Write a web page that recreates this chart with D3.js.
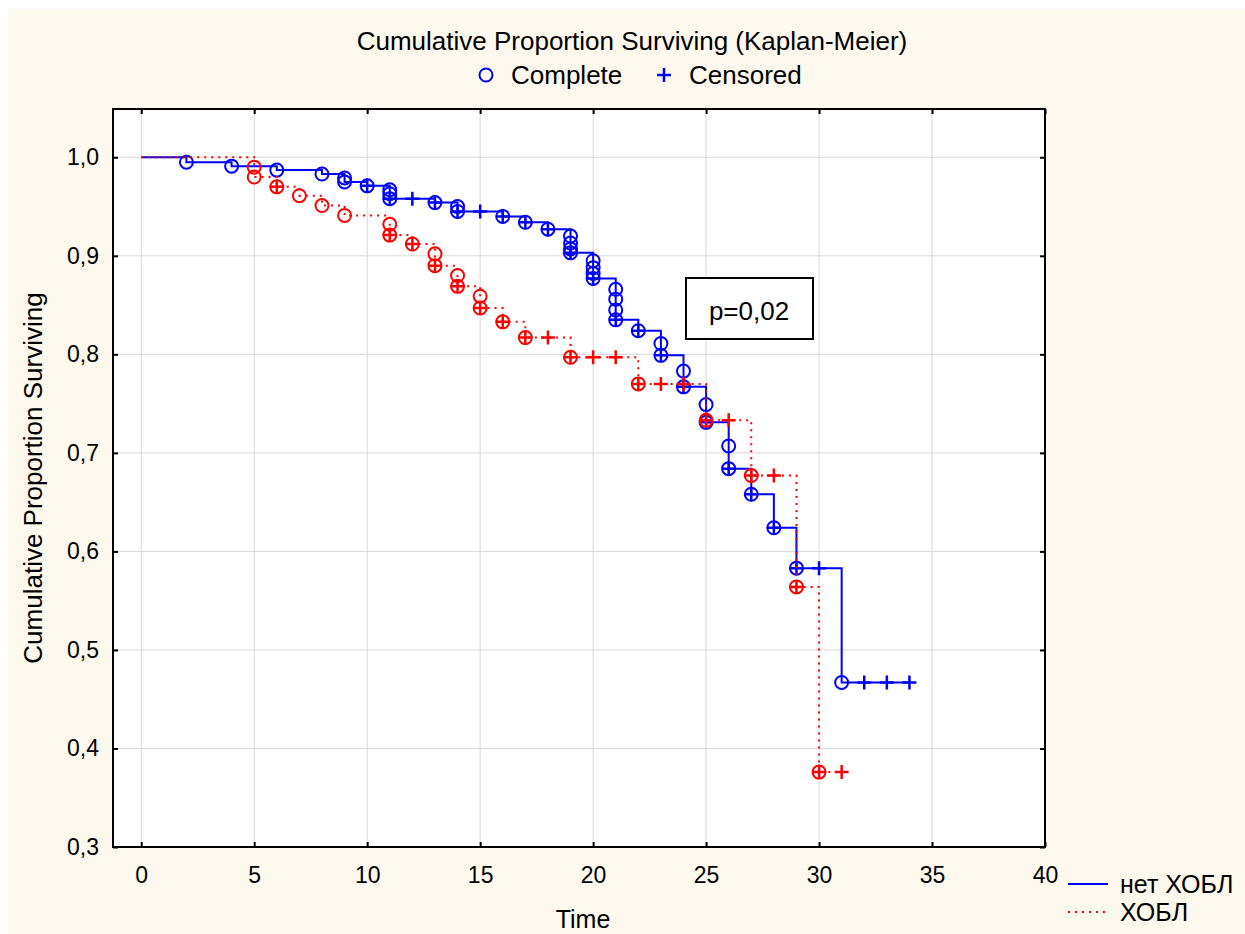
<!DOCTYPE html>
<html>
<head>
<meta charset="utf-8">
<script src="https://cdn.jsdelivr.net/npm/d3@7"></script>
<style>
  body { margin: 0; background: #fff; }
  text { font-family: "Liberation Sans", Arial, sans-serif; }
</style>
</head>
<body>
<svg id="chart" width="1245" height="934"></svg>
<script>
// ---- data ----
var xTicks = [0, 5, 10, 15, 20, 25, 30, 35, 40];
var yTicks = [0.3, 0.4, 0.5, 0.6, 0.7, 0.8, 0.9, 1.0];

// group "нет ХОБЛ" (blue, solid)
var noEventTime = [2, 4, 6, 8, 9, 9, 10, 11, 11, 11, 13, 14, 14, 16, 17, 18,
    19, 19, 19, 19, 20, 20, 20, 20, 21, 21, 21, 21, 22, 23, 23, 24, 24, 25, 25,
    26, 26, 27, 28, 29, 31];
var noEventSurv = [0.995, 0.991, 0.987, 0.983, 0.979, 0.975, 0.971, 0.967, 0.963, 0.958,
    0.954, 0.950, 0.945, 0.940, 0.934, 0.927,
    0.920, 0.913, 0.907, 0.903, 0.895, 0.888, 0.882, 0.877, 0.866, 0.856, 0.845, 0.835,
    0.824, 0.811, 0.799, 0.783, 0.767, 0.749, 0.731, 0.707, 0.684, 0.658, 0.624, 0.583, 0.467];
var noCensTime = [10, 11, 12, 13, 14, 15, 16, 17, 18, 19, 20, 21, 22, 23, 24, 25, 26, 27, 28, 29, 30, 32, 33, 34];
var noCensSurv = [0.971, 0.958, 0.958, 0.954, 0.945, 0.945, 0.940, 0.934, 0.927, 0.903, 0.877,
    0.835, 0.824, 0.799, 0.767, 0.731, 0.684, 0.658, 0.624, 0.583, 0.583, 0.467, 0.467, 0.467];

// group "ХОБЛ" (red, dotted)
var copdEventTime = [5, 5, 6, 7, 8, 9, 11, 11, 12, 13, 13, 14, 14, 15, 15, 16, 17, 19, 22, 25, 27, 29, 30];
var copdEventSurv = [0.990, 0.980, 0.970, 0.961, 0.951, 0.941, 0.932, 0.921, 0.912, 0.902, 0.890,
    0.880, 0.869, 0.859, 0.847, 0.833, 0.817, 0.797, 0.770, 0.733, 0.677, 0.564, 0.376];
var copdCensTime = [6, 11, 12, 13, 14, 15, 16, 17, 18, 19, 20, 21, 22, 23, 24, 25, 26, 27, 28, 29, 30, 31];
var copdCensSurv = [0.970, 0.921, 0.912, 0.890, 0.869, 0.847, 0.833, 0.817, 0.817, 0.797, 0.797,
    0.797, 0.770, 0.770, 0.770, 0.733, 0.733, 0.677, 0.677, 0.564, 0.376, 0.376];

var groups = [
    { name: 'нет ХОБЛ', color: '#0000ff', dash: null, et: noEventTime, es: noEventSurv, ct: noCensTime, cs: noCensSurv },
    { name: 'ХОБЛ', color: '#ff0000', dash: '2,5', et: copdEventTime, es: copdEventSurv, ct: copdCensTime, cs: copdCensSurv }
];

// ---- layout ----
var svg = d3.select('#chart');
var pLeft = 113, pRight = 1045, pTop = 109, pBottom = 847;

var x = d3.scaleLinear().domain([-1.25, 40]).range([pLeft, pRight]);
var y = d3.scaleLinear().domain([0.3, 1.049]).range([pBottom, pTop]);

svg.append('rect').attr('x', 8).attr('y', 9).attr('width', 1237).attr('height', 925).attr('fill', '#fdf9ee');
svg.append('rect').attr('x', pLeft).attr('y', pTop).attr('width', pRight - pLeft).attr('height', pBottom - pTop).attr('fill', '#fff');

// grid
svg.append('g').selectAll('line').data(xTicks).join('line')
    .attr('x1', d => x(d)).attr('x2', d => x(d)).attr('y1', pTop).attr('y2', pBottom)
    .attr('stroke', '#d9d9d9').attr('stroke-width', 1);
svg.append('g').selectAll('line').data(yTicks).join('line')
    .attr('x1', pLeft).attr('x2', pRight).attr('y1', d => y(d)).attr('y2', d => y(d))
    .attr('stroke', '#d9d9d9').attr('stroke-width', 1);

var fmt = d => d3.format('.1f')(d).replace('.', ',');

var ax = svg.append('g').attr('transform', 'translate(0,' + pBottom + ')')
    .call(d3.axisBottom(x).tickValues(xTicks).tickSize(-5).tickPadding(20).tickSizeOuter(0));
var ay = svg.append('g').attr('transform', 'translate(' + pLeft + ',0)')
    .call(d3.axisLeft(y).tickValues(yTicks).tickFormat(fmt).tickSize(-5).tickPadding(14).tickSizeOuter(0));
svg.append('g').attr('transform', 'translate(0,' + pTop + ')')
    .call(d3.axisTop(x).tickValues(xTicks).tickSize(-5).tickFormat('').tickSizeOuter(0));
svg.append('g').attr('transform', 'translate(' + pRight + ',0)')
    .call(d3.axisRight(y).tickValues(yTicks).tickSize(-5).tickFormat('').tickSizeOuter(0));
svg.selectAll('.domain').remove();
svg.selectAll('.tick line').attr('stroke', '#000').attr('stroke-width', 2);
[ax, ay].forEach(g => g.selectAll('text').attr('font-size', 23).attr('fill', '#000')
    .attr('font-family', '"Liberation Sans", Arial, sans-serif'));

// frame
svg.append('rect').attr('x', pLeft).attr('y', pTop).attr('width', pRight - pLeft).attr('height', pBottom - pTop)
    .attr('fill', 'none').attr('stroke', '#000').attr('stroke-width', 2);

// curves
var line = d3.line().x(d => x(d[0])).y(d => y(d[1])).curve(d3.curveStepAfter);

function stepPoints(g) {
    var byT = d3.rollup(d3.range(g.et.length), idx => d3.min(idx, i => g.es[i]), i => g.et[i]);
    var pts = [[0, 1]];
    Array.from(byT.keys()).sort(d3.ascending).forEach(t => pts.push([t, byT.get(t)]));
    var lastT = d3.max(g.ct.concat(g.et));
    pts.push([lastT, pts[pts.length - 1][1]]);
    return pts;
}

groups.forEach(function (g) {
    var gg = svg.append('g');
    gg.append('path').datum(stepPoints(g)).attr('d', line)
        .attr('fill', 'none').attr('stroke', g.color).attr('stroke-width', 2)
        .attr('stroke-dasharray', g.dash);
    gg.append('g').selectAll('circle').data(d3.range(g.et.length)).join('circle')
        .attr('cx', i => x(g.et[i])).attr('cy', i => y(g.es[i])).attr('r', 6.5)
        .attr('fill', 'none').attr('stroke', g.color).attr('stroke-width', 2);
    gg.append('g').selectAll('path').data(d3.range(g.ct.length)).join('path')
        .attr('d', i => {
            var cx = x(g.ct[i]), cy = y(g.cs[i]);
            return 'M' + (cx - 7) + ',' + cy + 'H' + (cx + 7) + 'M' + cx + ',' + (cy - 7) + 'V' + (cy + 7);
        })
        .attr('stroke', g.color).attr('stroke-width', 2.5);
});

// titles
svg.append('text').attr('x', 632).attr('y', 50).attr('text-anchor', 'middle').attr('font-size', 26)
    .text('Cumulative Proportion Surviving (Kaplan-Meier)');
svg.append('circle').attr('cx', 486).attr('cy', 75).attr('r', 6.5).attr('fill', 'none')
    .attr('stroke', '#0000ff').attr('stroke-width', 2);
svg.append('text').attr('x', 511).attr('y', 84).attr('font-size', 26).text('Complete');
svg.append('path').attr('d', 'M657,75H671M664,68V82').attr('stroke', '#0000ff').attr('stroke-width', 2.5);
svg.append('text').attr('x', 689).attr('y', 84).attr('font-size', 26).text('Censored');

svg.append('text').attr('x', 583).attr('y', 928).attr('text-anchor', 'middle').attr('font-size', 25).text('Time');
svg.append('text').attr('transform', 'translate(42,478) rotate(-90)').attr('text-anchor', 'middle')
    .attr('font-size', 26).text('Cumulative Proportion Surviving');

// p-value box
svg.append('rect').attr('x', 686).attr('y', 278).attr('width', 127).attr('height', 61)
    .attr('fill', '#fff').attr('stroke', '#000').attr('stroke-width', 2);
svg.append('text').attr('x', 749).attr('y', 320).attr('text-anchor', 'middle').attr('font-size', 26)
    .attr('font-family', '"Noto Sans", sans-serif').text('p=0,02');

// group legend
groups.forEach(function (g, i) {
    var ly = 884 + i * 28;
    svg.append('line').attr('x1', 1068).attr('x2', 1108).attr('y1', ly).attr('y2', ly)
        .attr('stroke', g.color).attr('stroke-width', 2).attr('stroke-dasharray', g.dash);
    svg.append('text').attr('x', 1120).attr('y', ly + 9).attr('font-size', 25)
        .attr('font-family', '"Noto Sans", sans-serif').text(g.name);
});
</script>
</body>
</html>
